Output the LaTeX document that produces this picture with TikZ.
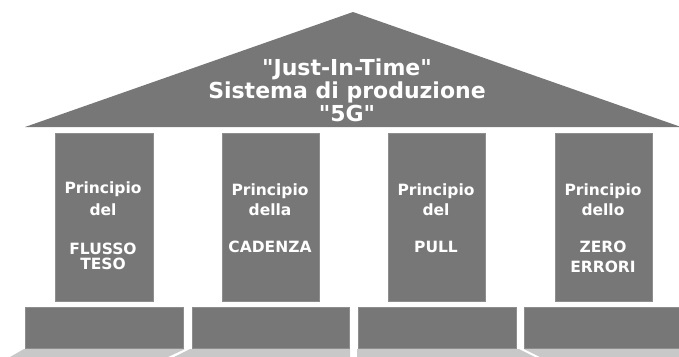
\documentclass[tikz,border=0pt]{standalone}
\usepackage{fontspec}
\setmainfont{DejaVu Sans}
\definecolor{slab}{HTML}{777777}
\definecolor{slabedge}{HTML}{8E8E8E}
\definecolor{floorc}{HTML}{C8C8C8}
\begin{document}
\begin{tikzpicture}[x=1bp,y=-1bp,
  block/.style={fill=slab,draw=slabedge,line width=0.6bp},
  floorseg/.style={fill=floorc,draw=none},
  rooftxt/.style={text=white,font=\fontsize{22bp}{26bp}\selectfont\bfseries,anchor=base,inner sep=0pt},
  coltxt/.style={text=white,font=\fontsize{15.5bp}{18bp}\selectfont\bfseries,anchor=base,inner sep=0pt}]
\useasboundingbox (0,0) rectangle (679,356);
% roof
\fill[slab] (353,12) -- (681,127) -- (25,127) -- cycle;
\node[rooftxt] (r1) at (347,75) {\textquotedbl Just-In-Time\textquotedbl};
\node[rooftxt] (r2) at (347,98) {Sistema di produzione};
\node[rooftxt] (r3) at (347,121) {\textquotedbl 5G\textquotedbl};
% columns
\draw[block] (55,133) rectangle (153,301);
\draw[block] (222,133) rectangle (319,301);
\draw[block] (388,133) rectangle (485,301);
\draw[block] (555,133) rectangle (652,301);
% bases
\draw[block] (25,307) rectangle (183,348);
\draw[block] (192,307) rectangle (349,348);
\draw[block] (358,307) rectangle (516,348);
\draw[block] (524,307) rectangle (684,348);
% floor
\fill[floorseg] (24,349) -- (185,349) -- (168,357) -- (10,357) -- cycle;
\fill[floorseg] (190,349) -- (350,349) -- (350,357) -- (174,357) -- cycle;
\fill[floorseg] (357,349) -- (519,349) -- (535,357) -- (357,357) -- cycle;
\fill[floorseg] (524,349) -- (684,349) -- (684,357) -- (540,357) -- cycle;
% column texts
\node[coltxt] (a1) at (103,193) {Principio};
\node[coltxt] (a2) at (103,215) {del};
\node[coltxt] (a3) at (103,254) {FLUSSO};
\node[coltxt] (a4) at (103,269) {TESO};
\node[coltxt] (b1) at (270,195) {Principio};
\node[coltxt] (b2) at (270,215) {della};
\node[coltxt] (b3) at (270,252) {CADENZA};
\node[coltxt] (c1) at (436,195) {Principio};
\node[coltxt] (c2) at (436,215) {del};
\node[coltxt] (c3) at (436,252) {PULL};
\node[coltxt] (d1) at (603,195) {Principio};
\node[coltxt] (d2) at (603,215) {dello};
\node[coltxt] (d3) at (603,252) {ZERO};
\node[coltxt] (d4) at (603,272) {ERRORI};
\end{tikzpicture}
\end{document}
